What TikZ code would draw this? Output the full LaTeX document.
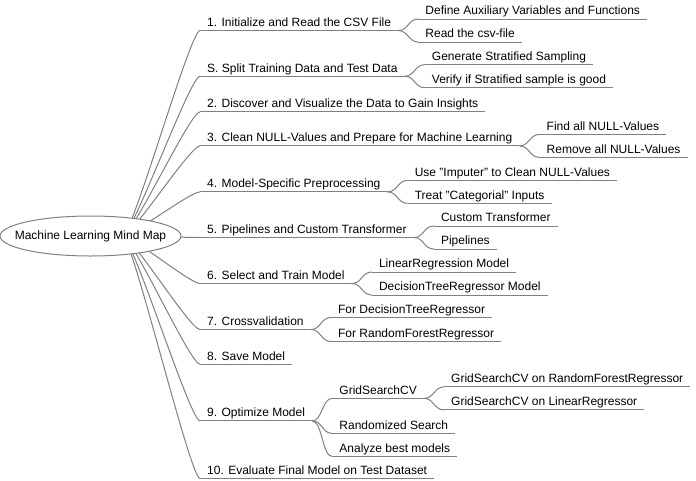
\documentclass[tikz,border=0pt]{standalone}
\usepackage{fontspec}
\setmainfont{Liberation Sans}
\usetikzlibrary{shapes.geometric,positioning,backgrounds}
\definecolor{linegray}{RGB}{128,128,128}
\tikzstyle{mapline} = [draw=linegray, line width=1pt]
\tikzstyle{centernode} = [ellipse, draw=linegray, fill=white, line width=1pt, minimum width=181pt, minimum height=40pt, inner xsep=-12pt, inner ysep=0pt, outer sep=0pt, font=\fontsize{12}{14}\selectfont]
\tikzstyle{topicnode} = [inner xsep=7pt, inner ysep=1pt, text height=9pt, text depth=3pt, font=\fontsize{12}{14}\selectfont, append after command={(\tikzlastnode.south west) edge[mapline] (\tikzlastnode.south east)}]
\tikzstyle{mainedge} = [mapline, to path={.. controls +(10pt,0) and +(-10pt,0) .. (\tikztotarget)}]
\tikzstyle{subedge} = [mapline, to path={.. controls +(10pt,0) and +(-10pt,0) .. (\tikztotarget)}]

\begin{document}
\begin{tikzpicture}[x=1pt,y=1pt,node distance=20pt]
\useasboundingbox (0,0) rectangle (696,-480);
\node[centernode] (center) at (90.5,-236) {Machine Learning Mind Map};
\coordinate (hub) at ([xshift=32pt]center.center);

% main topics
\node[topicnode, right=19pt of center, yshift=212.7pt] (t1) {1. Initialize and Read the CSV File};
\node[topicnode, right=19pt of center, yshift=167pt] (tS) {S. Split Training Data and Test Data};
\node[topicnode, right=19pt of center, yshift=131.3pt] (t2) {2. Discover and Visualize the Data to Gain Insights};
\node[topicnode, right=19pt of center, yshift=97.3pt] (t3) {3. Clean NULL-Values and Prepare for Machine Learning};
\node[topicnode, right=19pt of center, yshift=51.3pt] (t4) {4. Model-Specific Preprocessing};
\node[topicnode, right=19pt of center, yshift=5.7pt] (t5) {5. Pipelines and Custom Transformer};
\node[topicnode, right=19pt of center, yshift=-40.3pt] (t6) {6. Select and Train Model};
\node[topicnode, right=19pt of center, yshift=-86.3pt] (t7) {7. Crossvalidation};
\node[topicnode, right=19pt of center, yshift=-121pt] (t8) {8. Save Model};
\node[topicnode, right=19pt of center, yshift=-177.7pt] (t9) {9. Optimize Model};
\node[topicnode, right=19pt of center, yshift=-235.3pt] (t10) {10. Evaluate Final Model on Test Dataset};

% sub topics
\node[topicnode, right=of t1, yshift=11.5pt] (t1a) {Define Auxiliary Variables and Functions};
\node[topicnode, right=of t1, yshift=-11.5pt] (t1b) {Read the csv-file};
\node[topicnode, right=of tS, yshift=11.5pt] (tSa) {Generate Stratified Sampling};
\node[topicnode, right=of tS, yshift=-11.5pt] (tSb) {Verify if Stratified sample is good};
\node[topicnode, right=of t3, yshift=11.5pt] (t3a) {Find all NULL-Values};
\node[topicnode, right=of t3, yshift=-11.5pt] (t3b) {Remove all NULL-Values};
\node[topicnode, right=of t4, yshift=11.5pt] (t4a) {Use "Imputer" to Clean NULL-Values};
\node[topicnode, right=of t4, yshift=-11.5pt] (t4b) {Treat "Categorial" Inputs};
\node[topicnode, right=of t5, yshift=11.5pt] (t5a) {Custom Transformer};
\node[topicnode, right=of t5, yshift=-11.5pt] (t5b) {Pipelines};
\node[topicnode, right=of t6, yshift=11.5pt] (t6a) {LinearRegression Model};
\node[topicnode, right=of t6, yshift=-11.5pt] (t6b) {DecisionTreeRegressor Model};
\node[topicnode, right=of t7, yshift=12pt] (t7a) {For DecisionTreeRegressor};
\node[topicnode, right=of t7, yshift=-12pt] (t7b) {For RandomForestRegressor};
\node[topicnode, right=of t9, yshift=22.5pt] (t9a) {GridSearchCV};
\node[topicnode, right=of t9, yshift=-12.5pt] (t9b) {Randomized Search};
\node[topicnode, right=of t9, yshift=-35.5pt] (t9c) {Analyze best models};
\node[topicnode, right=of t9a, yshift=11.5pt] (t9aa) {GridSearchCV on RandomForestRegressor};
\node[topicnode, right=of t9a, yshift=-11.5pt] (t9ab) {GridSearchCV on LinearRegressor};

\begin{scope}[on background layer]
\draw[mainedge] (hub) to (t1.south west);
\draw[mainedge] (hub) to (tS.south west);
\draw[mainedge] (hub) to (t2.south west);
\draw[mainedge] (hub) to (t3.south west);
\draw[mainedge] (hub) to (t4.south west);
\draw[mainedge] (hub) to (t5.south west);
\draw[mainedge] (hub) to (t6.south west);
\draw[mainedge] (hub) to (t7.south west);
\draw[mainedge] (hub) to (t8.south west);
\draw[mainedge] (hub) to (t9.south west);
\draw[mainedge] (hub) to (t10.south west);
\end{scope}

\draw[subedge] (t1.south east) to (t1a.south west);
\draw[subedge] (t1.south east) to (t1b.south west);
\draw[subedge] (tS.south east) to (tSa.south west);
\draw[subedge] (tS.south east) to (tSb.south west);
\draw[subedge] (t3.south east) to (t3a.south west);
\draw[subedge] (t3.south east) to (t3b.south west);
\draw[subedge] (t4.south east) to (t4a.south west);
\draw[subedge] (t4.south east) to (t4b.south west);
\draw[subedge] (t5.south east) to (t5a.south west);
\draw[subedge] (t5.south east) to (t5b.south west);
\draw[subedge] (t6.south east) to (t6a.south west);
\draw[subedge] (t6.south east) to (t6b.south west);
\draw[subedge] (t7.south east) to (t7a.south west);
\draw[subedge] (t7.south east) to (t7b.south west);
\draw[subedge] (t9.south east) to (t9a.south west);
\draw[subedge] (t9.south east) to (t9b.south west);
\draw[subedge] (t9.south east) to (t9c.south west);
\draw[subedge] (t9a.south east) to (t9aa.south west);
\draw[subedge] (t9a.south east) to (t9ab.south west);
\end{tikzpicture}
\end{document}
